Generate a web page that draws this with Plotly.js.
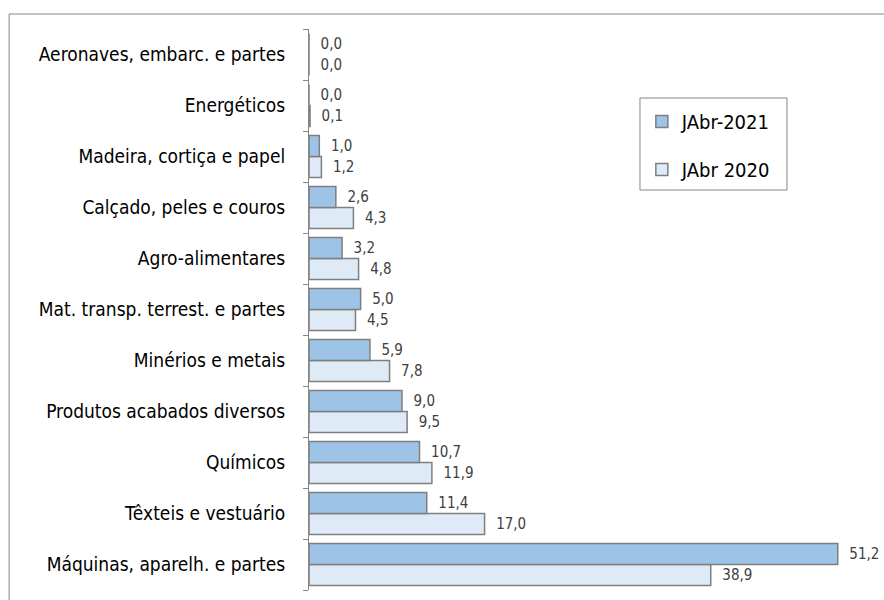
<!DOCTYPE html>
<html>
<head>
<meta charset="utf-8">
<script src="https://cdn.plot.ly/plotly-3.0.1.min.js"></script>
<style>
html,body{margin:0;padding:0;background:#fff;}
#chart{width:884px;height:600px;}
</style>
</head>
<body>
<div id="chart"></div>
<script>
// Data (bottom to top)
const categories = [
  "Máquinas, aparelh. e partes",
  "Têxteis e vestuário",
  "Químicos",
  "Produtos acabados diversos",
  "Minérios e metais",
  "Mat. transp. terrest. e partes",
  "Agro-alimentares",
  "Calçado, peles e couros",
  "Madeira, cortiça e papel",
  "Energéticos",
  "Aeronaves, embarc. e partes"
];
const jabr2021 = [51.2, 11.4, 10.7, 9.0, 5.9, 5.0, 3.2, 2.6, 1.0, 0.0, 0.0];
const jabr2020 = [38.9, 17.0, 11.9, 9.5, 7.8, 4.5, 4.8, 4.3, 1.2, 0.1, 0.0];
const seriesNames = ["JAbr-2021", "JAbr 2020"];

const fmt = v => "\u00a0\u00a0" + v.toFixed(1).replace(".", ",");
const FONT = "'Liberation Sans Narrow', 'DejaVu Sans Condensed', 'Open Sans', sans-serif";

const trace2020 = {
  type: "bar", orientation: "h", name: seriesNames[1],
  y: categories, x: jabr2020,
  text: jabr2020.map(fmt), textposition: "outside", cliponaxis: false,
  textfont: {family: FONT, size: 15, color: "#404040"},
  marker: {color: "#deebf7", line: {color: "#7f7f7f", width: 1.5}},
  legendrank: 2, legendgroup: "b", hoverinfo: "none"
};
const trace2021 = {
  type: "bar", orientation: "h", name: seriesNames[0],
  y: categories, x: jabr2021,
  text: jabr2021.map(fmt), textposition: "outside", cliponaxis: false,
  textfont: {family: FONT, size: 15, color: "#404040"},
  marker: {color: "#9dc3e6", line: {color: "#7f7f7f", width: 1.5}},
  legendrank: 1, legendgroup: "a", hoverinfo: "none"
};

const layout = {
  width: 884, height: 600,
  margin: {l: 309, r: 7, t: 29, b: 10},
  paper_bgcolor: "#ffffff", plot_bgcolor: "#ffffff",
  font: {family: FONT, size: 18, color: "#000000"},
  barmode: "group", bargap: 0.176, bargroupgap: 0,
  showlegend: true,
  legend: {
    x: 0.586, xanchor: "left", y: 0.87, yanchor: "top",
    traceorder: "grouped", tracegroupgap: 19,
    font: {family: FONT, size: 20, color: "#000000"},
    bgcolor: "rgba(0,0,0,0)", borderwidth: 0
  },
  xaxis: {range: [0, 55], visible: false, fixedrange: true},
  yaxis: {
    type: "category", showline: true, linecolor: "#868686", linewidth: 1,
    ticks: "outside", tickson: "boundaries", ticklen: 5, tickcolor: "#868686",
    ticklabelstandoff: 19, showgrid: false, zeroline: false,
    tickfont: {family: FONT, size: 19, color: "#000000"}, fixedrange: true
  },
  shapes: [
    {type: "rect", xref: "paper", yref: "paper",
     x0: -0.528, x1: 1.2, y0: -0.2, y1: 1.0267,
     line: {color: "#868686", width: 1}, fillcolor: "rgba(0,0,0,0)", layer: "below"},
    {type: "rect", xref: "paper", yref: "paper",
     x0: 0.5827, x1: 0.8415, y0: 0.713, y1: 0.877,
     line: {color: "#868686", width: 1}, fillcolor: "rgba(0,0,0,0)", layer: "below"}
  ]
};

Plotly.newPlot("chart", [trace2020, trace2021], layout, {displayModeBar: false, staticPlot: true});
</script>
</body>
</html>
